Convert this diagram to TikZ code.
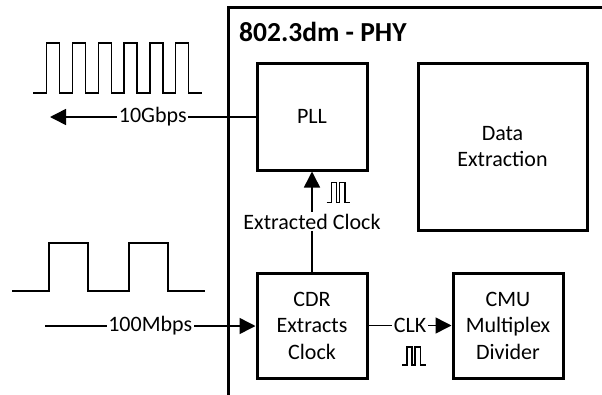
\documentclass[tikz,border=0pt]{standalone}
\usepackage{fontspec}
\setmainfont{Carlito}
\usetikzlibrary{arrows.meta}
\begin{document}
\begin{tikzpicture}[x=1pt,y=-1pt,
  blk/.style={draw,line width=3pt,align=center,inner sep=0pt,font=\fontsize{22}{26.5}\selectfont},
  conn/.style={line width=1.5pt,-{Triangle[length=16pt,width=16pt]}},
  lbl/.style={fill=white,inner sep=1.5pt,font=\fontsize{22}{26}\selectfont},
  wave/.style={line width=1.5pt,line join=miter}]
\useasboundingbox (0,0) rectangle (602,394);
% PHY frame
\draw[line width=3pt] (228,400) -- (228,7.5) -- (610,7.5);
\node[anchor=base west,font=\bfseries\fontsize{27.5}{32}\selectfont,inner sep=0pt] (title) at (239,41.5) {802.3dm - PHY};
% blocks
\node[blk,minimum width=110pt,minimum height=107pt] (pll) at (312,116.5) {PLL};
\node[blk,minimum width=169pt,minimum height=167pt] (data) at (502.5,146.5) {Data\\Extraction};
\node[blk,minimum width=110pt,minimum height=105pt] (cdr) at (312,325.5) {CDR\\Extracts\\Clock};
\node[blk,minimum width=110pt,minimum height=105pt] (cmu) at (508,325.5) {CMU\\Multiplex\\Divider};
% connectors
\coordinate (outL) at (50,117);
\coordinate (inL) at (45,326);
\draw[conn] (pll.west |- 0,117) -- node[lbl]{10Gbps} (outL);
\draw[conn] (inL) -- node[lbl]{100Mbps} (cdr.west |- 0,326);
\draw[conn] (cdr.north) -- node[lbl]{Extracted Clock} (pll.south);
\draw[conn] (cdr.east) -- node[lbl]{CLK} (cmu.west);
% big waveforms
\draw[wave] (33,93)
  \foreach \k in {0,...,5} { -- ({46.7+25.8*\k},93) -- ({46.7+25.8*\k},43) -- ({59.7+25.8*\k},43) -- ({59.7+25.8*\k},93) }
  -- (202,93);
\draw[wave] (12,291) -- (49,291) -- (49,243) -- (88,243) -- (88,291) -- (129,291) -- (129,243) -- (168,243) -- (168,291) -- (205,291);
% small clock symbols
\draw[wave,line width=1.3pt] (326.5,202.5) -- ++(5,0) -- ++(0,-20) -- ++(5,0) -- ++(0,20) -- ++(3,0) -- ++(0,-20) -- ++(5.5,0) -- ++(0,20) -- ++(5,0);
\draw[wave,line width=1.3pt] (402,365) -- ++(5,0) -- ++(0,-18) -- ++(5,0) -- ++(0,18) -- ++(3,0) -- ++(0,-18) -- ++(5.5,0) -- ++(0,18) -- ++(5,0);
\end{tikzpicture}
\end{document}
